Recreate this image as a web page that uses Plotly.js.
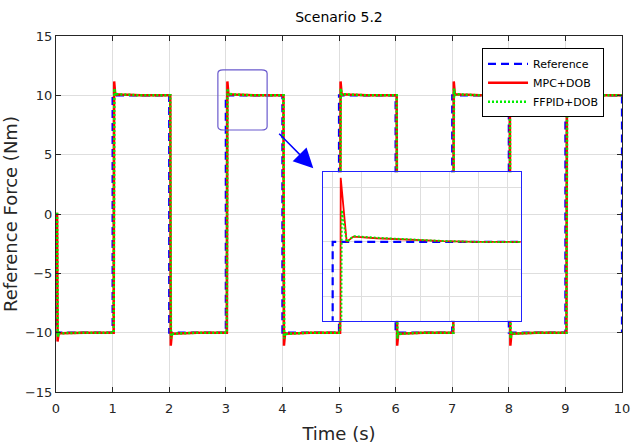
<!DOCTYPE html>
<html>
<head>
<meta charset="utf-8">
<script src="https://cdn.plot.ly/plotly-3.0.1.min.js"></script>
<style>html,body{margin:0;padding:0;background:#fff}#chart{width:631px;height:444px}</style>
</head>
<body>
<div id="chart"></div>
<script>
// ---- data ----
const edgeTimes = [0, 1, 2, 3, 4, 5, 6, 7, 8, 9];          // switching instants (s)
const refLevels = [-10, 10, -10, 10, -10, 10, -10, 10, -10, 10]; // reference after each switch (Nm)
const startLevel = 0;
const endTime = 10;
const endRefLevel = -10;                                     // reference drops again at t = 10
const mpcPeaks = [-10.75, 11.17, -11.1, 11.17, -11.1, 11.17, -11.1, 11.17, -11.1, 11.17];
const pidPeaks = [-10.35, 10.58, -10.5, 10.58, -10.5, 10.58, -10.5, 10.58, -10.5, 10.58];
// transient timing after each switch (s)
const riseStart = 0.019;
const mpcPeakAt = 0.0276;
const pidPeakAt = 0.031;
const settleAt = 0.048;
const tailTimes = [0.071, 0.151, 0.265, 0.379, 0.493];
const mpcTail = [0.097, 0.067, 0.036, 0.013, 0];   // overshoot (Nm) for a 20 Nm step
const pidTail = [0.105, 0.075, 0.042, 0.016, 0];
const seriesNames = ['Reference', 'MPC+DOB', 'FFPID+DOB'];

// ---- build polylines ----
function buildRef() {
  const x = [0], y = [startLevel];
  let prev = startLevel;
  edgeTimes.forEach((t, i) => { x.push(t, t); y.push(prev, refLevels[i]); prev = refLevels[i]; });
  x.push(endTime, endTime); y.push(prev, endRefLevel);
  return {x, y};
}
function buildResp(peaks, peakAt, tail) {
  const x = [0], y = [startLevel];
  let prev = startLevel;
  edgeTimes.forEach((t, i) => {
    const lvl = refLevels[i];
    const step = lvl - prev;
    const sgn = Math.sign(step), scale = Math.abs(step) / 20;
    x.push(t + riseStart, t + peakAt, t + settleAt);
    y.push(prev, peaks[i], lvl);
    tailTimes.forEach((tt, k) => { x.push(t + tt); y.push(lvl + sgn * tail[k] * scale); });
    prev = lvl;
  });
  x.push(endTime); y.push(prev);
  return {x, y};
}
const ref = buildRef();
const mpc = buildResp(mpcPeaks, mpcPeakAt, mpcTail);
const pid = buildResp(pidPeaks, pidPeakAt, pidTail);

const refStyle = {color: '#0000ff', width: 2.2, dash: '8px,5px'};
const mpcStyle = {color: '#ff0000', width: 2.5};
const pidStyle = {color: '#00ee00', width: 2.5, dash: '2px,2px'};

const traces = [
  {x: ref.x, y: ref.y, name: seriesNames[0], mode: 'lines', line: refStyle, xaxis: 'x', yaxis: 'y'},
  {x: mpc.x, y: mpc.y, name: seriesNames[1], mode: 'lines', line: mpcStyle, xaxis: 'x', yaxis: 'y'},
  {x: pid.x, y: pid.y, name: seriesNames[2], mode: 'lines', line: pidStyle, xaxis: 'x', yaxis: 'y'},
  {x: ref.x, y: ref.y, mode: 'lines', line: refStyle, xaxis: 'x2', yaxis: 'y2', showlegend: false},
  {x: mpc.x, y: mpc.y, mode: 'lines', line: Object.assign({}, mpcStyle, {width: 1.8}), xaxis: 'x2', yaxis: 'y2', showlegend: false},
  {x: pid.x, y: pid.y, mode: 'lines', line: Object.assign({}, pidStyle, {width: 2}), xaxis: 'x2', yaxis: 'y2', showlegend: false}
];

const ink = '#262626';
const font = 'DejaVu Sans, sans-serif';
const layout = {
  width: 631, height: 444,
  margin: {l: 56, r: 9, t: 36, b: 52},
  paper_bgcolor: '#ffffff', plot_bgcolor: '#ffffff',
  font: {family: font, color: ink, size: 13},
  title: {text: 'Scenario 5.2', font: {size: 14, color: '#000'}, x: 0.5, xref: 'paper', y: 0.962, yref: 'container', yanchor: 'middle'},
  showlegend: true,
  legend: {x: 0.7527, y: 0.9655, xanchor: 'left', yanchor: 'top', bgcolor: '#ffffff', bordercolor: '#000', borderwidth: 1,
           font: {size: 11, color: '#000'}, itemwidth: 40, tracegroupgap: 0},
  xaxis: {range: [0, 10], dtick: 1, tick0: 0, showgrid: true, gridcolor: '#dedede', zeroline: false,
          showline: true, mirror: 'ticks', linecolor: ink, linewidth: 1, ticks: 'inside', ticklen: 5, tickcolor: ink,
          ticklabelstandoff: 4,
          title: {text: 'Time (s)', font: {size: 18, color: ink}, standoff: 12}, automargin: false, domain: [0, 1]},
  yaxis: {range: [-15, 15], dtick: 5, tick0: 0, showgrid: true, gridcolor: '#dedede', zeroline: false,
          showline: true, mirror: 'ticks', linecolor: ink, linewidth: 1, ticks: 'inside', ticklen: 5, tickcolor: ink,
          title: {text: 'Reference Force (Nm)', font: {size: 18, color: ink}, standoff: 8}, automargin: false, domain: [0, 1]},
  xaxis2: {domain: [0.4723, 0.821], anchor: 'y2', range: [2.968, 3.644], dtick: 0.1, tick0: 3,
           showgrid: true, gridcolor: '#dedede', zeroline: false, showticklabels: false, ticks: '',
           showline: true, mirror: true, linecolor: '#2222ff', linewidth: 1.6},
  yaxis2: {domain: [0.2, 0.617], anchor: 'x2', range: [8.56, 11.27], dtick: 0.5, tick0: 10,
           showgrid: true, gridcolor: '#dedede', zeroline: false, showticklabels: false, ticks: '',
           showline: true, mirror: true, linecolor: '#2222ff', linewidth: 1.6},
  shapes: [
    {type: 'path', xref: 'x', yref: 'y', layer: 'above',
     path: 'M 2.95,12.14 L 3.63,12.14 Q 3.73,12.14 3.73,11.84 L 3.73,7.38 Q 3.73,7.08 3.63,7.08 L 2.96,7.08 Q 2.86,7.08 2.86,7.38 L 2.86,11.84 Q 2.86,12.14 2.95,12.14 Z',
     line: {color: '#6a5acd', width: 1.2}}
  ],
  annotations: [
    {x: 4.546, y: 3.855, xref: 'x', yref: 'y', ax: 3.917, ay: 6.887, axref: 'x', ayref: 'y',
     showarrow: true, arrowhead: 2, arrowsize: 2.6, arrowwidth: 1.5, arrowcolor: '#0000ff', text: ''}
  ]
};

Plotly.newPlot('chart', traces, layout, {displayModeBar: false, staticPlot: true});
</script>
</body>
</html>
